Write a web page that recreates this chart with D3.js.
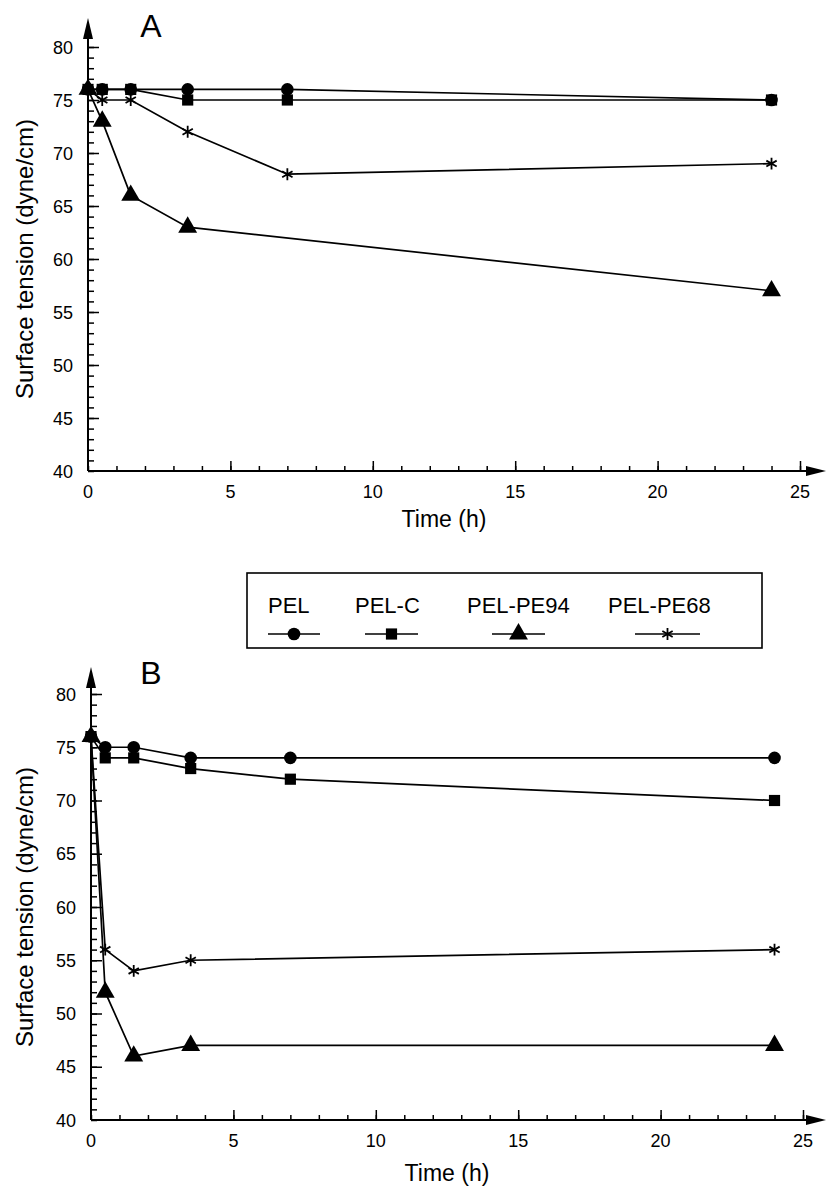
<!DOCTYPE html>
<html>
<head>
<meta charset="utf-8">
<script src="https://cdn.jsdelivr.net/npm/d3@7"></script>
<style>
  body { margin: 0; background: #fff; }
  text { font-family: "Liberation Sans", Arial, sans-serif; fill: #000; }
</style>
</head>
<body>
<div id="chart"></div>
<script>
// sampling times (h)
const times = [0, 0.5, 1.5, 3.5, 7, 24];
const seriesNames = ["PEL", "PEL-C", "PEL-PE94", "PEL-PE68"];

// panel A values (dyne/cm), null = no measurement
const pelA = [76, 76, 76, 76, 76, 75];
const pelCA = [76, 76, 76, 75, 75, 75];
const pe94A = [76, 73, 66, 63, null, 57];
const pe68A = [76, 75, 75, 72, 68, 69];

// panel B values
const pelB = [76, 75, 75, 74, 74, 74];
const pelCB = [76, 74, 74, 73, 72, 70];
const pe94B = [76, 52, 46, 47, null, 47];
const pe68B = [76, 56, 54, 55, null, 56];

const xTicks = [0, 5, 10, 15, 20, 25];
const yTicks = [40, 45, 50, 55, 60, 65, 70, 75, 80];

const W = 828, H = 1190;
const svg = d3.select("#chart").append("svg")
    .attr("width", W)
    .attr("height", H);

const symbolTypes = [d3.symbolCircle, d3.symbolSquare, d3.symbolTriangle, d3.symbolAsterisk];
const symbolSizes = [125, 125, 155, 100];

function drawMarker(g, i, x, y) {
    const isStar = i === 3;
    g.append("path")
        .attr("transform", `translate(${x},${y})`)
        .attr("d", d3.symbol(symbolTypes[i], symbolSizes[i])())
        .attr("fill", isStar ? "none" : "#000")
        .attr("stroke", "#000")
        .attr("stroke-width", isStar ? 1.8 : 0);
}

function drawPanel(opt) {
    const g = svg.append("g");
    const x = d3.scaleLinear().domain([0, 25]).range([opt.x0, opt.x1]);
    const y = d3.scaleLinear().domain([40, 80]).range([opt.yBottom, opt.yTop]);

    // x axis with minor ticks pointing up
    const xAxis = g.append("g").attr("transform", `translate(0,${opt.yBottom})`);
    xAxis.call(d3.axisTop(x).ticks(25).tickSize(5).tickFormat(""));
    xAxis.append("g").call(d3.axisTop(x).tickValues(xTicks.slice(1)).tickSize(10).tickFormat(""));
    xAxis.selectAll(".domain").remove();
    xAxis.selectAll("line").attr("stroke-width", 1.5);
    g.append("line")
        .attr("x1", opt.x0).attr("x2", opt.arrowX - 14)
        .attr("y1", opt.yBottom).attr("y2", opt.yBottom)
        .attr("stroke", "#000").attr("stroke-width", 2);
    g.append("path")
        .attr("d", `M${opt.arrowX},${opt.yBottom} l-20,-5 l0,10 z`)
        .attr("fill", "#000");

    // x tick labels
    g.selectAll(".xl").data(xTicks).enter().append("text")
        .attr("x", d => x(d))
        .attr("y", opt.yBottom + 27)
        .attr("text-anchor", "middle")
        .style("font-size", "18px")
        .text(d => d);

    // y axis with minor ticks pointing right
    const yAxis = g.append("g").attr("transform", `translate(${opt.x0},0)`);
    yAxis.call(d3.axisRight(y).ticks(40).tickSize(6).tickFormat(""));
    yAxis.append("g").call(d3.axisRight(y).tickValues(yTicks.slice(1)).tickSize(11).tickFormat(""));
    yAxis.selectAll(".domain").remove();
    yAxis.selectAll("line").attr("stroke-width", 1.5);
    g.append("line")
        .attr("x1", opt.x0).attr("x2", opt.x0)
        .attr("y1", opt.yBottom).attr("y2", opt.arrowY + 14)
        .attr("stroke", "#000").attr("stroke-width", 2);
    g.append("path")
        .attr("d", `M${opt.x0},${opt.arrowY} l-5,21 l10,0 z`)
        .attr("fill", "#000");

    g.selectAll(".yl").data(yTicks).enter().append("text")
        .attr("x", opt.x0 - 15)
        .attr("y", d => y(d) + 6.5)
        .attr("text-anchor", "end")
        .style("font-size", "18px")
        .text(d => d);

    // axis titles
    g.append("text")
        .attr("x", (opt.x0 + opt.x1) / 2)
        .attr("y", opt.yBottom + opt.titleDy)
        .attr("text-anchor", "middle")
        .style("font-size", "23px")
        .text("Time (h)");

    g.append("text")
        .attr("transform", `translate(33,${(opt.yTop + opt.yBottom) / 2}) rotate(-90)`)
        .attr("text-anchor", "middle")
        .style("font-size", "24px")
        .text("Surface tension (dyne/cm)");

    g.append("text")
        .attr("x", 151)
        .attr("y", opt.yTop - 10)
        .attr("text-anchor", "middle")
        .style("font-size", "32px")
        .text(opt.label);

    // series lines and markers
    const line = d3.line()
        .x(d => x(d[0]))
        .y(d => y(d[1]));

    opt.series.forEach((vals, i) => {
        const pts = times.map((t, j) => [t, vals[j]]).filter(d => d[1] !== null);
        g.append("path")
            .attr("d", line(pts))
            .attr("fill", "none")
            .attr("stroke", "#000")
            .attr("stroke-width", 1.7);
        pts.forEach(d => drawMarker(g, i, x(d[0]), y(d[1])));
    });
}

drawPanel({
    label: "A", x0: 88, x1: 800, yTop: 47, yBottom: 471, arrowX: 826, arrowY: 18, titleDy: 56,
    series: [pelA, pelCA, pe94A, pe68A]
});

drawPanel({
    label: "B", x0: 91, x1: 803, yTop: 694, yBottom: 1120, arrowX: 826, arrowY: 667, titleDy: 61,
    series: [pelB, pelCB, pe94B, pe68B]
});

// legend box between the panels
const legend = svg.append("g");
legend.append("rect")
    .attr("x", 247).attr("y", 573)
    .attr("width", 515).attr("height", 75)
    .attr("fill", "none")
    .attr("stroke", "#000")
    .attr("stroke-width", 1.6);

const legendText = [268, 355, 467, 608];
const legendLine = [[268, 320], [365, 418], [492, 545], [635, 700]];
seriesNames.forEach((name, i) => {
    legend.append("text")
        .attr("x", legendText[i])
        .attr("y", 613)
        .style("font-size", "22px")
        .text(name);
    legend.append("line")
        .attr("x1", legendLine[i][0]).attr("x2", legendLine[i][1])
        .attr("y1", 634).attr("y2", 634)
        .attr("stroke", "#000").attr("stroke-width", 1.6);
    drawMarker(legend, i, (legendLine[i][0] + legendLine[i][1]) / 2, 634);
});
</script>
</body>
</html>
